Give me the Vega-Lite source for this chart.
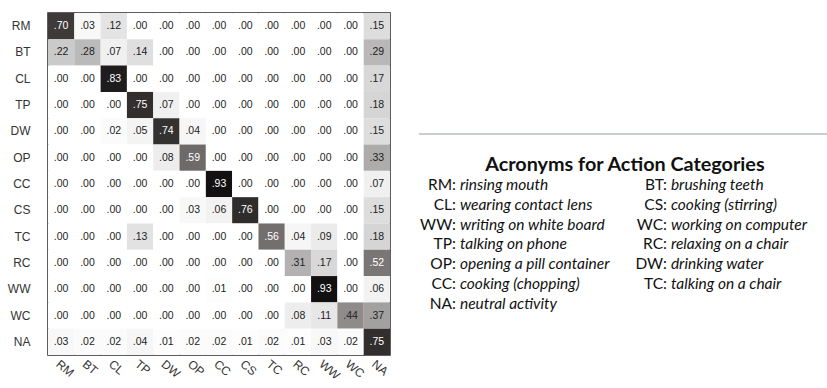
{
  "$schema": "https://vega.github.io/schema/vega-lite/v6.json",
  "background": "white",
  "padding": {"left": 6, "top": 12, "right": 0, "bottom": 0},
  "spacing": 27,
  "config": {
    "font": "Liberation Sans",
    "view": {"stroke": null},
    "axis": {"domain": false, "ticks": false, "grid": false, "title": null}
  },
  "hconcat": [
    {
      "width": 342,
      "height": 342,
      "view": {"stroke": "#2a2a2a", "strokeWidth": 1.5},
      "data": {
        "values": [
          {"actual": "RM", "pred": "RM", "v": 0.70}, {"actual": "RM", "pred": "BT", "v": 0.03}, {"actual": "RM", "pred": "CL", "v": 0.12}, {"actual": "RM", "pred": "TP", "v": 0.00}, {"actual": "RM", "pred": "DW", "v": 0.00}, {"actual": "RM", "pred": "OP", "v": 0.00}, {"actual": "RM", "pred": "CC", "v": 0.00}, {"actual": "RM", "pred": "CS", "v": 0.00}, {"actual": "RM", "pred": "TC", "v": 0.00}, {"actual": "RM", "pred": "RC", "v": 0.00}, {"actual": "RM", "pred": "WW", "v": 0.00}, {"actual": "RM", "pred": "WC", "v": 0.00}, {"actual": "RM", "pred": "NA", "v": 0.15},
          {"actual": "BT", "pred": "RM", "v": 0.22}, {"actual": "BT", "pred": "BT", "v": 0.28}, {"actual": "BT", "pred": "CL", "v": 0.07}, {"actual": "BT", "pred": "TP", "v": 0.14}, {"actual": "BT", "pred": "DW", "v": 0.00}, {"actual": "BT", "pred": "OP", "v": 0.00}, {"actual": "BT", "pred": "CC", "v": 0.00}, {"actual": "BT", "pred": "CS", "v": 0.00}, {"actual": "BT", "pred": "TC", "v": 0.00}, {"actual": "BT", "pred": "RC", "v": 0.00}, {"actual": "BT", "pred": "WW", "v": 0.00}, {"actual": "BT", "pred": "WC", "v": 0.00}, {"actual": "BT", "pred": "NA", "v": 0.29},
          {"actual": "CL", "pred": "RM", "v": 0.00}, {"actual": "CL", "pred": "BT", "v": 0.00}, {"actual": "CL", "pred": "CL", "v": 0.83}, {"actual": "CL", "pred": "TP", "v": 0.00}, {"actual": "CL", "pred": "DW", "v": 0.00}, {"actual": "CL", "pred": "OP", "v": 0.00}, {"actual": "CL", "pred": "CC", "v": 0.00}, {"actual": "CL", "pred": "CS", "v": 0.00}, {"actual": "CL", "pred": "TC", "v": 0.00}, {"actual": "CL", "pred": "RC", "v": 0.00}, {"actual": "CL", "pred": "WW", "v": 0.00}, {"actual": "CL", "pred": "WC", "v": 0.00}, {"actual": "CL", "pred": "NA", "v": 0.17},
          {"actual": "TP", "pred": "RM", "v": 0.00}, {"actual": "TP", "pred": "BT", "v": 0.00}, {"actual": "TP", "pred": "CL", "v": 0.00}, {"actual": "TP", "pred": "TP", "v": 0.75}, {"actual": "TP", "pred": "DW", "v": 0.07}, {"actual": "TP", "pred": "OP", "v": 0.00}, {"actual": "TP", "pred": "CC", "v": 0.00}, {"actual": "TP", "pred": "CS", "v": 0.00}, {"actual": "TP", "pred": "TC", "v": 0.00}, {"actual": "TP", "pred": "RC", "v": 0.00}, {"actual": "TP", "pred": "WW", "v": 0.00}, {"actual": "TP", "pred": "WC", "v": 0.00}, {"actual": "TP", "pred": "NA", "v": 0.18},
          {"actual": "DW", "pred": "RM", "v": 0.00}, {"actual": "DW", "pred": "BT", "v": 0.00}, {"actual": "DW", "pred": "CL", "v": 0.02}, {"actual": "DW", "pred": "TP", "v": 0.05}, {"actual": "DW", "pred": "DW", "v": 0.74}, {"actual": "DW", "pred": "OP", "v": 0.04}, {"actual": "DW", "pred": "CC", "v": 0.00}, {"actual": "DW", "pred": "CS", "v": 0.00}, {"actual": "DW", "pred": "TC", "v": 0.00}, {"actual": "DW", "pred": "RC", "v": 0.00}, {"actual": "DW", "pred": "WW", "v": 0.00}, {"actual": "DW", "pred": "WC", "v": 0.00}, {"actual": "DW", "pred": "NA", "v": 0.15},
          {"actual": "OP", "pred": "RM", "v": 0.00}, {"actual": "OP", "pred": "BT", "v": 0.00}, {"actual": "OP", "pred": "CL", "v": 0.00}, {"actual": "OP", "pred": "TP", "v": 0.00}, {"actual": "OP", "pred": "DW", "v": 0.08}, {"actual": "OP", "pred": "OP", "v": 0.59}, {"actual": "OP", "pred": "CC", "v": 0.00}, {"actual": "OP", "pred": "CS", "v": 0.00}, {"actual": "OP", "pred": "TC", "v": 0.00}, {"actual": "OP", "pred": "RC", "v": 0.00}, {"actual": "OP", "pred": "WW", "v": 0.00}, {"actual": "OP", "pred": "WC", "v": 0.00}, {"actual": "OP", "pred": "NA", "v": 0.33},
          {"actual": "CC", "pred": "RM", "v": 0.00}, {"actual": "CC", "pred": "BT", "v": 0.00}, {"actual": "CC", "pred": "CL", "v": 0.00}, {"actual": "CC", "pred": "TP", "v": 0.00}, {"actual": "CC", "pred": "DW", "v": 0.00}, {"actual": "CC", "pred": "OP", "v": 0.00}, {"actual": "CC", "pred": "CC", "v": 0.93}, {"actual": "CC", "pred": "CS", "v": 0.00}, {"actual": "CC", "pred": "TC", "v": 0.00}, {"actual": "CC", "pred": "RC", "v": 0.00}, {"actual": "CC", "pred": "WW", "v": 0.00}, {"actual": "CC", "pred": "WC", "v": 0.00}, {"actual": "CC", "pred": "NA", "v": 0.07},
          {"actual": "CS", "pred": "RM", "v": 0.00}, {"actual": "CS", "pred": "BT", "v": 0.00}, {"actual": "CS", "pred": "CL", "v": 0.00}, {"actual": "CS", "pred": "TP", "v": 0.00}, {"actual": "CS", "pred": "DW", "v": 0.00}, {"actual": "CS", "pred": "OP", "v": 0.03}, {"actual": "CS", "pred": "CC", "v": 0.06}, {"actual": "CS", "pred": "CS", "v": 0.76}, {"actual": "CS", "pred": "TC", "v": 0.00}, {"actual": "CS", "pred": "RC", "v": 0.00}, {"actual": "CS", "pred": "WW", "v": 0.00}, {"actual": "CS", "pred": "WC", "v": 0.00}, {"actual": "CS", "pred": "NA", "v": 0.15},
          {"actual": "TC", "pred": "RM", "v": 0.00}, {"actual": "TC", "pred": "BT", "v": 0.00}, {"actual": "TC", "pred": "CL", "v": 0.00}, {"actual": "TC", "pred": "TP", "v": 0.13}, {"actual": "TC", "pred": "DW", "v": 0.00}, {"actual": "TC", "pred": "OP", "v": 0.00}, {"actual": "TC", "pred": "CC", "v": 0.00}, {"actual": "TC", "pred": "CS", "v": 0.00}, {"actual": "TC", "pred": "TC", "v": 0.56}, {"actual": "TC", "pred": "RC", "v": 0.04}, {"actual": "TC", "pred": "WW", "v": 0.09}, {"actual": "TC", "pred": "WC", "v": 0.00}, {"actual": "TC", "pred": "NA", "v": 0.18},
          {"actual": "RC", "pred": "RM", "v": 0.00}, {"actual": "RC", "pred": "BT", "v": 0.00}, {"actual": "RC", "pred": "CL", "v": 0.00}, {"actual": "RC", "pred": "TP", "v": 0.00}, {"actual": "RC", "pred": "DW", "v": 0.00}, {"actual": "RC", "pred": "OP", "v": 0.00}, {"actual": "RC", "pred": "CC", "v": 0.00}, {"actual": "RC", "pred": "CS", "v": 0.00}, {"actual": "RC", "pred": "TC", "v": 0.00}, {"actual": "RC", "pred": "RC", "v": 0.31}, {"actual": "RC", "pred": "WW", "v": 0.17}, {"actual": "RC", "pred": "WC", "v": 0.00}, {"actual": "RC", "pred": "NA", "v": 0.52},
          {"actual": "WW", "pred": "RM", "v": 0.00}, {"actual": "WW", "pred": "BT", "v": 0.00}, {"actual": "WW", "pred": "CL", "v": 0.00}, {"actual": "WW", "pred": "TP", "v": 0.00}, {"actual": "WW", "pred": "DW", "v": 0.00}, {"actual": "WW", "pred": "OP", "v": 0.00}, {"actual": "WW", "pred": "CC", "v": 0.01}, {"actual": "WW", "pred": "CS", "v": 0.00}, {"actual": "WW", "pred": "TC", "v": 0.00}, {"actual": "WW", "pred": "RC", "v": 0.00}, {"actual": "WW", "pred": "WW", "v": 0.93}, {"actual": "WW", "pred": "WC", "v": 0.00}, {"actual": "WW", "pred": "NA", "v": 0.06},
          {"actual": "WC", "pred": "RM", "v": 0.00}, {"actual": "WC", "pred": "BT", "v": 0.00}, {"actual": "WC", "pred": "CL", "v": 0.00}, {"actual": "WC", "pred": "TP", "v": 0.00}, {"actual": "WC", "pred": "DW", "v": 0.00}, {"actual": "WC", "pred": "OP", "v": 0.00}, {"actual": "WC", "pred": "CC", "v": 0.00}, {"actual": "WC", "pred": "CS", "v": 0.00}, {"actual": "WC", "pred": "TC", "v": 0.00}, {"actual": "WC", "pred": "RC", "v": 0.08}, {"actual": "WC", "pred": "WW", "v": 0.11}, {"actual": "WC", "pred": "WC", "v": 0.44}, {"actual": "WC", "pred": "NA", "v": 0.37},
          {"actual": "NA", "pred": "RM", "v": 0.03}, {"actual": "NA", "pred": "BT", "v": 0.02}, {"actual": "NA", "pred": "CL", "v": 0.02}, {"actual": "NA", "pred": "TP", "v": 0.04}, {"actual": "NA", "pred": "DW", "v": 0.01}, {"actual": "NA", "pred": "OP", "v": 0.02}, {"actual": "NA", "pred": "CC", "v": 0.02}, {"actual": "NA", "pred": "CS", "v": 0.01}, {"actual": "NA", "pred": "TC", "v": 0.02}, {"actual": "NA", "pred": "RC", "v": 0.01}, {"actual": "NA", "pred": "WW", "v": 0.03}, {"actual": "NA", "pred": "WC", "v": 0.02}, {"actual": "NA", "pred": "NA", "v": 0.75}
        ]
      },
      "transform": [
        {"calculate": "slice(format(datum.v, '.2f'), 1)", "as": "label"}
      ],
      "encoding": {
        "x": {
          "field": "pred",
          "type": "nominal",
          "sort": ["RM", "BT", "CL", "TP", "DW", "OP", "CC", "CS", "TC", "RC", "WW", "WC", "NA"],
          "scale": {"paddingInner": 0, "paddingOuter": 0},
          "axis": {"orient": "bottom", "labelAngle": 40, "labelAlign": "left", "labelBaseline": "top", "labelPadding": 3, "labelFontSize": 12, "labelColor": "#333333"}
        },
        "y": {
          "field": "actual",
          "type": "nominal",
          "sort": ["RM", "BT", "CL", "TP", "DW", "OP", "CC", "CS", "TC", "RC", "WW", "WC", "NA"],
          "scale": {"paddingInner": 0, "paddingOuter": 0},
          "axis": {"labelPadding": 18, "labelFontSize": 12, "labelColor": "#333333"}
        }
      },
      "layer": [
        {
          "mark": {"type": "rect"},
          "encoding": {
            "color": {
              "field": "v",
              "type": "quantitative",
              "legend": null,
              "scale": {
                "type": "linear",
                "interpolate": "rgb",
                "domain": [0, 0.1, 0.2, 0.3, 0.44, 0.52, 0.59, 0.7, 0.83, 0.93],
                "range": ["#ffffff", "#e9e9e9", "#d0d0d0", "#b6b4b4", "#8f8b8b", "#7b7676", "#6e6a6a", "#3e3a3a", "#1e1c1c", "#121010"]
              }
            }
          }
        },
        {
          "mark": {"type": "text", "fontSize": 10.5},
          "encoding": {
            "text": {"field": "label"},
            "color": {
              "condition": {"test": "datum.v >= 0.5", "value": "#ffffff"},
              "value": "#222222"
            }
          }
        }
      ]
    },
    {
      "width": 411,
      "height": 342,
      "view": {"stroke": null},
      "layer": [
        {
          "data": {"values": [{"heading": "Acronyms for Action Categories"}]},
          "mark": {"type": "rule", "color": "#b8bec6", "strokeWidth": 1.3},
          "encoding": {
            "y": {"datum": -2.83, "type": "quantitative", "scale": {"domain": [-8.94, 8.33], "reverse": true}, "axis": null}
          }
        },
        {
          "data": {"values": [{"heading": "Acronyms for Action Categories"}]},
          "mark": {"type": "text", "font": "Lato", "fontWeight": "bold", "fontSize": 19.8, "align": "center", "baseline": "alphabetic", "color": "#111111"},
          "encoding": {
            "x": {"datum": 0.782, "type": "quantitative", "scale": {"domain": [-0.194, 1.754]}, "axis": null},
            "y": {"datum": -0.96, "type": "quantitative", "scale": {"domain": [-8.94, 8.33], "reverse": true}, "axis": null},
            "text": {"field": "heading"}
          }
        },
        {
          "data": {"name": "acronyms"},
          "transform": [{"calculate": "datum.code + ':'", "as": "term"}],
          "mark": {"type": "text", "font": "Lato", "fontSize": 15.5, "align": "right", "baseline": "alphabetic", "dx": -4, "color": "#111111"},
          "encoding": {
            "x": {"field": "col", "type": "quantitative", "scale": {"domain": [-0.194, 1.754]}, "axis": null},
            "y": {"field": "row", "type": "quantitative", "scale": {"domain": [-8.94, 8.33], "reverse": true}, "axis": null},
            "text": {"field": "term"}
          }
        },
        {
          "data": {"name": "acronyms"},
          "mark": {"type": "text", "font": "Lato", "fontSize": 15.5, "fontStyle": "italic", "align": "left", "baseline": "alphabetic", "color": "#111111"},
          "encoding": {
            "x": {"field": "col", "type": "quantitative", "scale": {"domain": [-0.194, 1.754]}, "axis": null},
            "y": {"field": "row", "type": "quantitative", "scale": {"domain": [-8.94, 8.33], "reverse": true}, "axis": null},
            "text": {"field": "meaning"}
          }
        }
      ]
    }
  ],
  "datasets": {
    "acronyms": [
      {"code": "RM", "meaning": "rinsing mouth", "col": 0, "row": 0},
      {"code": "CL", "meaning": "wearing contact lens", "col": 0, "row": 1},
      {"code": "WW", "meaning": "writing on white board", "col": 0, "row": 2},
      {"code": "TP", "meaning": "talking on phone", "col": 0, "row": 3},
      {"code": "OP", "meaning": "opening a pill container", "col": 0, "row": 4},
      {"code": "CC", "meaning": "cooking (chopping)", "col": 0, "row": 5},
      {"code": "NA", "meaning": "neutral activity", "col": 0, "row": 6},
      {"code": "BT", "meaning": "brushing teeth", "col": 1, "row": 0},
      {"code": "CS", "meaning": "cooking (stirring)", "col": 1, "row": 1},
      {"code": "WC", "meaning": "working on computer", "col": 1, "row": 2},
      {"code": "RC", "meaning": "relaxing on a chair", "col": 1, "row": 3},
      {"code": "DW", "meaning": "drinking water", "col": 1, "row": 4},
      {"code": "TC", "meaning": "talking on a chair", "col": 1, "row": 5}
    ]
  }
}
